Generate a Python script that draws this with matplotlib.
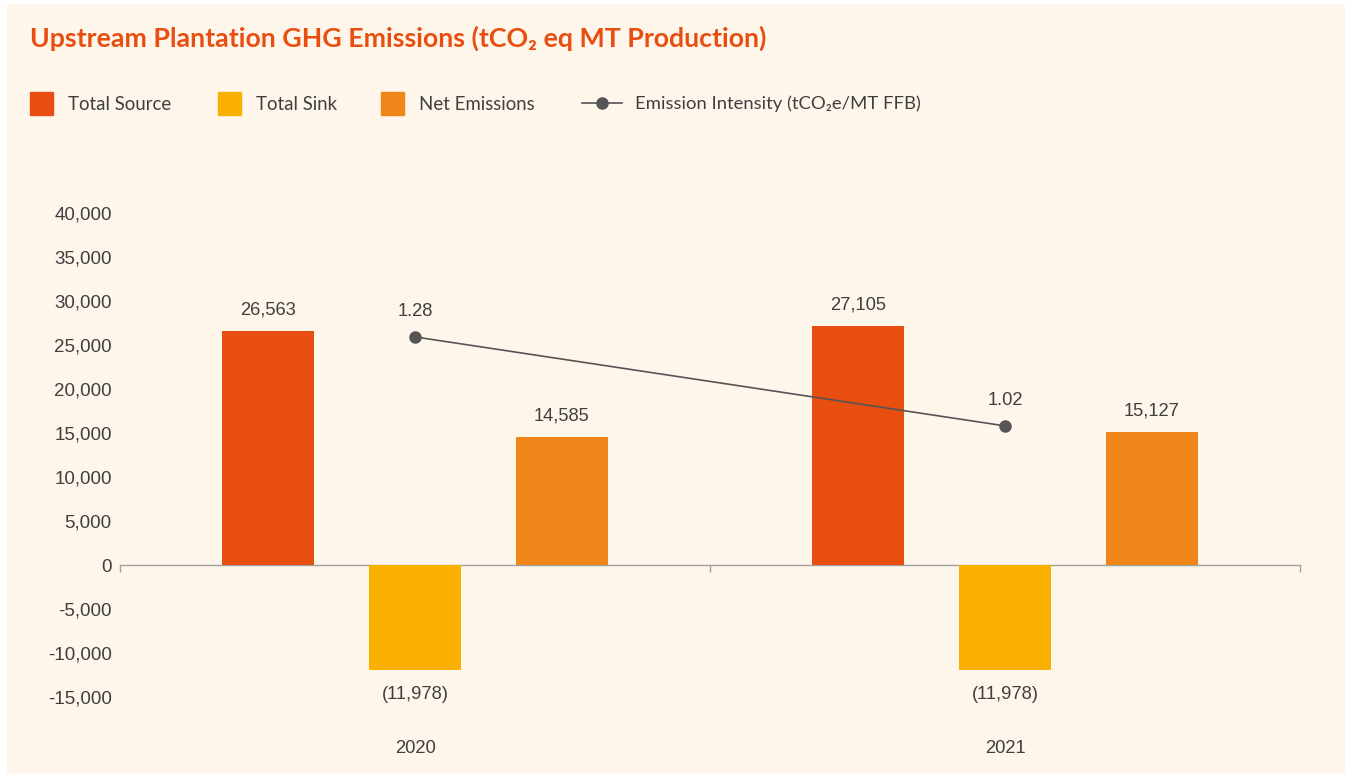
import numpy as np
import matplotlib.pyplot as plt
from matplotlib.patches import Rectangle
from matplotlib.lines import Line2D

years = ["2020", "2021"]
series_names = ["Total Source", "Total Sink", "Net Emissions"]
total_source = [26563, 27105]
total_sink = [-11978, -11978]
net_emissions = [14585, 15127]
intensity = [1.28, 1.02]
intensity_name = "Emission Intensity (tCO\u2082e/MT FFB)"

colors = ["#E84E10", "#F9B000", "#F08519"]
bg = "#FEF6EA"
text_col = "#3F3F3F"
num_font = "Liberation Sans"

W, H = 1351, 774
fig = plt.figure(figsize=(W / 100, H / 100), dpi=100)
fig.patch.set_facecolor("white")
# cream panel with thin white margin at top and sides
fig.add_artist(Rectangle((7 / W, -0.02), (W - 13) / W, 0.02 + (H - 4) / H,
                         transform=fig.transFigure, color=bg, zorder=-10, lw=0))

# axes placed in pixel terms: x 120..1300, y 213..697
ax = fig.add_axes([120 / W, 1 - 697 / H, 1180 / W, 484 / H])
ax.set_facecolor(bg)

x = np.arange(len(years))
width = 0.155
offset = 0.249
series = [total_source, total_sink, net_emissions]
for i, vals in enumerate(series):
    pos = x + (i - 1) * offset
    ax.bar(pos, vals, width=width, color=colors[i], zorder=2)
    for px, v in zip(pos, vals):
        if v >= 0:
            ax.annotate(f"{v:,}", (px, v), xytext=(0, 9), textcoords="offset points",
                        ha="center", va="bottom", fontsize=13.2, color=text_col,
                        family=num_font)
        else:
            ax.annotate(f"({abs(v):,})", (px, v), xytext=(0, -11), textcoords="offset points",
                        ha="center", va="top", fontsize=13.2, color=text_col,
                        family=num_font)

ax.set_xlim(-0.5, 1.5)
ax.set_ylim(-15000, 40000)
ax.set_yticks(np.arange(-15000, 40001, 5000))
ax.set_yticklabels([f"{int(t):,}" for t in ax.get_yticks()], fontsize=13.5, color=text_col,
                   family=num_font)
ax.tick_params(axis="y", length=0, pad=6)
ax.set_xticks(x)
ax.set_xticklabels(years, fontsize=13.2, color=text_col, family=num_font)
ax.tick_params(axis="x", length=0, pad=31)
for s in ax.spines.values():
    s.set_visible(False)

# zero baseline with category separator ticks
zero_frac = 15000 / 55000
sec = ax.secondary_xaxis(zero_frac)
sec.set_xticks([-0.5, 0.5, 1.5])
sec.set_xticklabels(["", "", ""])
sec.tick_params(axis="x", direction="out", length=5, color="#A0A0A0", width=1)
sec.spines["bottom"].set_color("#A0A0A0")
sec.spines["bottom"].set_linewidth(1)

# intensity line on hidden secondary axis
ax2 = ax.twinx()
ax2.plot(x, intensity, color="#555555", lw=1.2, marker="o", markersize=8,
         markerfacecolor="#555555", markeredgecolor="#555555", zorder=3)
ax2.set_ylim(0.228, 1.642)
ax2.axis("off")
for px, v in zip(x, intensity):
    ax2.annotate(f"{v:.2f}", (px, v), xytext=(0, 12), textcoords="offset points",
                 ha="center", va="bottom", fontsize=13.2, color=text_col,
                 family=num_font)

# title
fig.text(30 / W, 1 - 38 / H, "Upstream Plantation GHG Emissions (tCO\u2082 eq MT Production)",
         fontsize=19.3, fontweight="bold", color="#E84E10", family="Lato", va="center")

# legend
leg_y = 1 - 104 / H
sq_y = (H - 115) / H
sq = 23
for xs, name, c in zip([30, 218, 381], series_names, colors):
    fig.add_artist(Rectangle((xs / W, sq_y), sq / W, sq / H,
                             transform=fig.transFigure, color=c))
    fig.text((xs + 38) / W, leg_y, name, fontsize=13.4, color=text_col,
             family="Lato", va="center")
line_y = 1 - 103 / H
fig.add_artist(Line2D([582 / W, 622 / W], [line_y, line_y], transform=fig.transFigure,
                      color="#555555", lw=1.2))
fig.add_artist(Line2D([602 / W], [line_y], transform=fig.transFigure, marker="o",
                      markersize=8, color="#555555"))
fig.text(635 / W, leg_y, intensity_name, fontsize=13.3, color=text_col,
         family="Lato", va="center")

fig.savefig("out.png", dpi=100, facecolor="white")
